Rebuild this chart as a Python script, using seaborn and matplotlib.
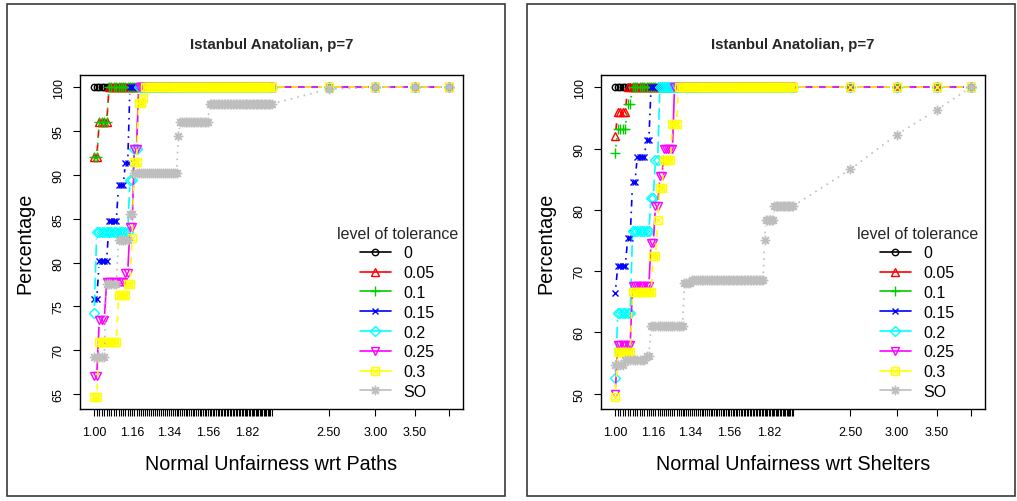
import numpy as np
import matplotlib
matplotlib.use("Agg")
import matplotlib.pyplot as plt
from matplotlib import font_manager
from matplotlib.collections import LineCollection
from matplotlib.lines import Line2D
from matplotlib.patches import Rectangle
import seaborn as sns

sns.set_theme(style="white")
plt.rcParams["font.family"] = ["Liberation Sans", "DejaVu Sans"]

# ---------------------------------------------------------------- data
# unfairness thresholds (x axis): 1.00 .. 2.00 in steps of 0.01, then a few coarse ones
thresholds = [round(1.00 + 0.01 * k, 2) for k in range(101)] + [2.50, 3.00, 3.50, 4.00]
labelled_ticks = [1.00, 1.16, 1.34, 1.56, 1.82, 2.50, 3.00, 3.50]
tolerance_levels = ["0", "0.05", "0.1", "0.15", "0.2", "0.25", "0.3", "SO"]

# percentage of instances with normal unfairness wrt paths <= threshold
paths_0 = [100.0] * 105
paths_005 = [92.0, 92.0, 96.0, 96.0, 96.0, 96.0] + [100.0] * 99
paths_010 = [92.0, 92.0, 96.0, 96.0, 96.0, 96.0] + [100.0] * 99
paths_015 = ([75.8] * 2 + [80.2] * 4 + [84.7] * 4 + [88.8] * 3 + [91.4] * 2
             + [100.0] * 90)
paths_020 = ([74.3] + [83.5] * 14 + [89.4] * 2 + [93.0] * 2 + [100.0] * 86)
paths_025 = ([67.0] * 2 + [73.4] * 3 + [77.8] * 8 + [78.8] * 2 + [84.1] * 2
             + [93.0] * 2 + [100.0] * 86)
paths_030 = ([64.7] * 2 + [70.9] * 8 + [76.3] * 4 + [77.6] * 2 + [82.8]
             + [91.5] * 2 + [98.2] * 2 + [98.8] + [100.0] * 83)
paths_so = ([69.2] * 5 + [77.6] * 5 + [82.6] * 5 + [85.6] * 2 + [90.2] * 22
            + [94.5] + [96.1] * 17 + [98.1] * 44 + [99.8, 100.0, 100.0, 100.0])

# percentage of instances with normal unfairness wrt shelters <= threshold
shelters_0 = [100.0] * 105
shelters_005 = [92.0] + [96.0] * 4 + [100.0] * 100
shelters_010 = [89.3] + [93.2] * 4 + [97.3] * 2 + [100.0] * 98
shelters_015 = ([66.4] + [70.8] * 4 + [75.4] * 2 + [84.6] * 2 + [88.7] * 4
                + [91.4] * 2 + [100.0] * 90)
shelters_020 = ([52.5] + [63.1] * 6 + [76.5] * 8 + [82.0] * 2 + [88.2] * 2
                + [100.0] * 86)
shelters_025 = ([50.0] + [57.9] * 6 + [67.6] * 8 + [74.6] * 2 + [80.6] * 2
                + [85.5] * 2 + [89.9] * 5 + [100.0] * 79)
shelters_030 = ([49.5] + [56.8] * 6 + [66.6] * 9 + [72.4] * 2 + [78.4]
                + [83.6] * 2 + [88.1] * 4 + [94.1] * 3 + [100.0] * 77)
shelters_so = ([54.6] * 4 + [55.4] * 9 + [56.2] * 2 + [61.0] * 16 + [68.0] * 4
               + [68.6] * 44 + [75.1] + [78.4] * 6 + [80.6] * 15
               + [86.6, 92.3, 96.3, 100.0])

paths_series = [paths_0, paths_005, paths_010, paths_015, paths_020,
                paths_025, paths_030, paths_so]
shelters_series = [shelters_0, shelters_005, shelters_010, shelters_015,
                   shelters_020, shelters_025, shelters_030, shelters_so]

# ---------------------------------------------------------------- styles
colors = ["#000000", "#FF0000", "#00CD00", "#0000FF", "#00FFFF", "#FF00FF",
          "#FFFF00", "#BEBEBE"]
dash_patterns = [None, (4, 4), (1, 3), (1, 3, 4, 3), (7, 3), None, (4, 4), (1, 3)]
marker_sets = [[("o", 4.6)], [("^", 6.0)], [("+", 6.8)], [("x", 4.8)],
               [("D", 5.2)], [("v", 6.0)], [("s", 5.2), ("x", 4.2)],
               [((8, 2, 0), 6.8)]]
LW = 1.2
GAP_PX = 6.5

# bold, narrow face for the panel titles when it is installed
_names = {f.name for f in font_manager.fontManager.ttflist}
if "Liberation Sans Narrow" in _names:
    TITLE_FONT, TITLE_SIZE = ["Liberation Sans Narrow", "Liberation Sans"], 12.0
else:
    TITLE_FONT, TITLE_SIZE = ["Liberation Sans", "DejaVu Sans"], 10.8

FIG_W, FIG_H = 1017, 502
fig = plt.figure(figsize=(FIG_W / 100, FIG_H / 100), dpi=100)
fig.patch.set_facecolor("white")


def axes_rect(left, top, right, bottom):
    return [left / FIG_W, 1 - bottom / FIG_H, (right - left) / FIG_W,
            (bottom - top) / FIG_H]


# panel outlines
for l, t, r, b in [(7, 5, 505, 497), (527, 5, 1015, 497)]:
    fig.add_artist(Rectangle((l / FIG_W, 1 - b / FIG_H), (r - l) / FIG_W,
                             (b - t) / FIG_H, transform=fig.transFigure,
                             fill=False, edgecolor="#3a3a3a", linewidth=1.2))


def gapped_segments(ax, xs, ys):
    """Connector pieces between successive points, stopping short of each point."""
    pts = ax.transData.transform(np.column_stack([xs, ys]))
    inv = ax.transData.inverted()
    segs = []
    for p0, p1 in zip(pts[:-1], pts[1:]):
        d = p1 - p0
        length = np.hypot(d[0], d[1])
        if length > 2 * GAP_PX:
            u = d / length
            segs.append(inv.transform(np.array([p0 + u * GAP_PX, p1 - u * GAP_PX])))
    return segs


def draw_panel(ax, series, xlabel, yticks, legend_anchor):
    x = np.array(thresholds)
    ax.set_xscale("log")
    lx = np.log(x)
    span = lx.max() - lx.min()
    xlim = (np.exp(lx.min() - 0.04 * span), np.exp(lx.max() + 0.04 * span))
    allv = np.concatenate([np.asarray(s) for s in series])
    lo, hi = allv.min(), allv.max()
    ylim = (lo - 0.04 * (hi - lo), hi + 0.04 * (hi - lo))
    ax.set_xlim(*xlim)
    ax.set_ylim(*ylim)

    for z, (vals, col, dash, marks) in enumerate(zip(series, colors,
                                                     dash_patterns, marker_sets)):
        vals = np.asarray(vals, dtype=float)
        segs = gapped_segments(ax, x, vals)
        ls = "solid" if dash is None else (0, dash)
        lc = LineCollection(segs, colors=col, linewidths=LW, linestyles=ls,
                            zorder=2 + z * 0.1, capstyle="butt")
        ax.add_collection(lc)
        for mk, ms in marks:
            sns.lineplot(x=x, y=vals, ax=ax, estimator=None, sort=False,
                         errorbar=None, legend=False, linestyle="none",
                         marker=mk, markersize=ms, color=col,
                         markerfacecolor="none", markeredgecolor=col,
                         markeredgewidth=1.0, zorder=2.05 + z * 0.1)

    ax.set_xlim(*xlim)
    ax.set_ylim(*ylim)
    ax.minorticks_off()
    ax.set_xticks(thresholds)
    ax.set_xticklabels([f"{t:.2f}" if any(abs(t - v) < 1e-9 for v in labelled_ticks)
                        else "" for t in thresholds])
    ax.set_yticks(yticks)
    ax.set_yticklabels([str(v) for v in yticks], rotation=90, va="center")
    ax.tick_params(axis="both", direction="out", length=5, width=0.8,
                   color="black", labelsize=9.0, labelcolor="black",
                   bottom=True, left=True)
    ax.tick_params(axis="x", pad=7.5)
    ax.tick_params(axis="y", pad=6.0)
    for sp in ax.spines.values():
        sp.set_visible(True)
        sp.set_color("black")
        sp.set_linewidth(1.0)
    ax.grid(False)
    ax.set_facecolor("white")

    ax.set_title("Istanbul Anatolian, p=7", fontsize=TITLE_SIZE, fontweight="bold",
                 family=TITLE_FONT, y=(410 - 45) / 334, pad=0, va="center")
    ax.set_xlabel(xlabel, fontsize=14.2, color="black")
    ax.xaxis.set_label_coords(0.5, (410 - 455) / 334)
    ax.set_ylabel("Percentage", fontsize=14.2, color="black")
    ax.yaxis.set_label_coords((34 - 80) / 383, 0.5)

    handles = []
    for col, marks in zip(colors, marker_sets):
        parts = []
        for i, (mk, ms) in enumerate(marks):
            parts.append(Line2D([], [], color=col, linewidth=LW if i == 0 else 0,
                                marker=mk, markersize=ms, markerfacecolor="none",
                                markeredgecolor=col, markeredgewidth=1.0))
        handles.append(tuple(parts) if len(parts) > 1 else parts[0])
    leg = ax.legend(handles, tolerance_levels, title="level of tolerance",
                    loc="lower right", bbox_to_anchor=legend_anchor,
                    frameon=False, fontsize=11.5, title_fontsize=11.5,
                    handlelength=1.9, handletextpad=0.8, labelspacing=0.3,
                    borderpad=0, borderaxespad=0, alignment="center")
    for t in leg.get_texts():
        t.set_color("black")


ax_left = fig.add_axes(axes_rect(80, 76, 463, 410))
ax_right = fig.add_axes(axes_rect(601, 76, 985, 410))

draw_panel(ax_left, paths_series, "Normal Unfairness wrt Paths",
           [65, 70, 75, 80, 85, 90, 95, 100], ((458 - 80) / 383, 10 / 334))
draw_panel(ax_right, shelters_series, "Normal Unfairness wrt Shelters",
           [50, 60, 70, 80, 90, 100], ((978 - 601) / 384, 10 / 334))

fig.savefig("out.png", dpi=100, facecolor="white")
